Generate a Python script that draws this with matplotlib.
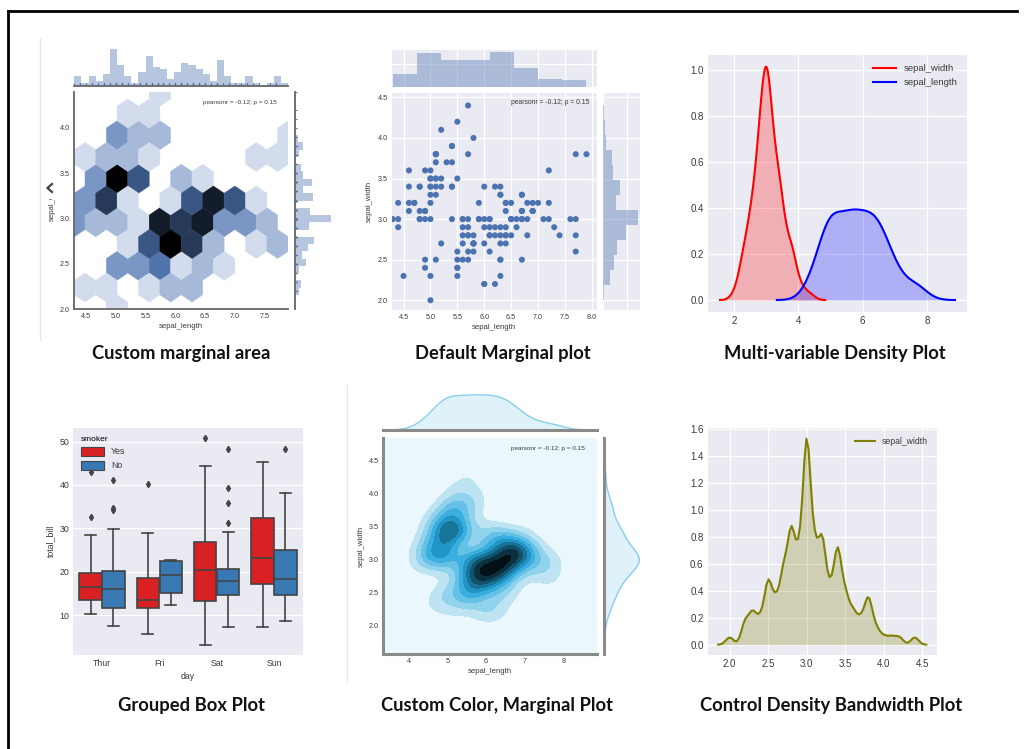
import numpy as np
import matplotlib
matplotlib.use("Agg")
import matplotlib.pyplot as plt
from matplotlib.colors import LinearSegmentedColormap, to_rgb
from matplotlib.patches import Rectangle, Patch
from matplotlib.lines import Line2D
import colorsys

# ------------------------------------------------------------------ data
sepal_length = [5.1, 4.9, 4.7, 4.6, 5.0, 5.4, 4.6, 5.0, 4.4, 4.9, 5.4, 4.8, 4.8, 4.3, 5.8,
                5.7, 5.4, 5.1, 5.7, 5.1, 5.4, 5.1, 4.6, 5.1, 4.8, 5.0, 5.0, 5.2, 5.2, 4.7,
                4.8, 5.4, 5.2, 5.5, 4.9, 5.0, 5.5, 4.9, 4.4, 5.1, 5.0, 4.5, 4.4, 5.0, 5.1,
                4.8, 5.1, 4.6, 5.3, 5.0,
                7.0, 6.4, 6.9, 5.5, 6.5, 5.7, 6.3, 4.9, 6.6, 5.2, 5.0, 5.9, 6.0, 6.1, 5.6,
                6.7, 5.6, 5.8, 6.2, 5.6, 5.9, 6.1, 6.3, 6.1, 6.4, 6.6, 6.8, 6.7, 6.0, 5.7,
                5.5, 5.5, 5.8, 6.0, 5.4, 6.0, 6.7, 6.3, 5.6, 5.5, 5.5, 6.1, 5.8, 5.0, 5.6,
                5.7, 5.7, 6.2, 5.1, 5.7,
                6.3, 5.8, 7.1, 6.3, 6.5, 7.6, 4.9, 7.3, 6.7, 7.2, 6.5, 6.4, 6.8, 5.7, 5.8,
                6.4, 6.5, 7.7, 7.7, 6.0, 6.9, 5.6, 7.7, 6.3, 6.7, 7.2, 6.2, 6.1, 6.4, 7.2,
                7.4, 7.9, 6.4, 6.3, 6.1, 7.7, 6.3, 6.4, 6.0, 6.9, 6.7, 6.9, 5.8, 6.8, 6.7,
                6.7, 6.3, 6.5, 6.2, 5.9]
sepal_width = [3.5, 3.0, 3.2, 3.1, 3.6, 3.9, 3.4, 3.4, 2.9, 3.1, 3.7, 3.4, 3.0, 3.0, 4.0,
               4.4, 3.9, 3.5, 3.8, 3.8, 3.4, 3.7, 3.6, 3.3, 3.4, 3.0, 3.4, 3.5, 3.4, 3.2,
               3.1, 3.4, 4.1, 4.2, 3.1, 3.2, 3.5, 3.6, 3.0, 3.4, 3.5, 2.3, 3.2, 3.5, 3.8,
               3.0, 3.8, 3.2, 3.7, 3.3,
               3.2, 3.2, 3.1, 2.3, 2.8, 2.8, 3.3, 2.4, 2.9, 2.7, 2.0, 3.0, 2.2, 2.9, 2.9,
               3.1, 3.0, 2.7, 2.2, 2.5, 3.2, 2.8, 2.5, 2.8, 2.9, 3.0, 2.8, 3.0, 2.9, 2.6,
               2.4, 2.4, 2.7, 2.7, 3.0, 3.4, 3.1, 2.3, 3.0, 2.5, 2.6, 3.0, 2.6, 2.3, 2.7,
               3.0, 2.9, 2.9, 2.5, 2.8,
               3.3, 2.7, 3.0, 2.9, 3.0, 3.0, 2.5, 2.9, 2.5, 3.6, 3.2, 2.7, 3.0, 2.5, 2.8,
               3.2, 3.0, 3.8, 2.6, 2.2, 3.2, 2.8, 2.8, 2.7, 3.3, 3.2, 2.8, 3.0, 2.8, 3.0,
               2.8, 3.8, 2.8, 2.8, 2.6, 3.0, 3.4, 3.1, 3.0, 3.1, 3.1, 3.1, 2.7, 3.2, 3.3,
               3.0, 2.5, 3.0, 3.4, 3.0]

# grouped box plot (tips: total_bill by day and smoker)
days = ["Thur", "Fri", "Sat", "Sun"]
smoker_levels = ["Yes", "No"]
yes_whislo = [10.2, 5.6, 3.1, 7.2]
yes_q1 = [13.4, 11.7, 13.3, 17.1]
yes_med = [16.5, 13.4, 20.4, 23.1]
yes_q3 = [19.8, 18.5, 26.8, 32.4]
yes_whishi = [28.5, 29.0, 44.3, 45.4]
yes_fliers = [[43.1, 32.7], [40.2], [50.8], []]
no_whislo = [7.5, 12.3, 7.2, 8.6]
no_q1 = [11.6, 15.0, 14.6, 14.6]
no_med = [16.0, 19.2, 17.8, 18.4]
no_q3 = [20.2, 22.5, 20.6, 25.0]
no_whishi = [29.8, 22.8, 29.1, 38.1]
no_fliers = [[41.2, 34.8, 34.3], [], [48.3, 39.4, 35.8, 31.3], [48.2]]

titles = ["Custom marginal area", "Default Marginal plot", "Multi-variable Density Plot",
          "Grouped Box Plot", "Custom Color, Marginal Plot", "Control Density Bandwidth Plot"]
pearson_label = "pearsonr = -0.12; p = 0.15"

# ------------------------------------------------------------------ helpers
sl = np.array(sepal_length)
sw = np.array(sepal_width)

W, H = 1024, 749
fig = plt.figure(figsize=(W / 100, H / 100), dpi=100)
fig.patch.set_facecolor("white")
plt.rcParams["font.family"] = ["Liberation Sans", "DejaVu Sans"]

DEEP = "#4C72B0"
TXT = "#3a3a3a"


def add_ax(x0, y0, x1, y1):
    return fig.add_axes([x0 / W, 1 - y1 / H, (x1 - x0) / W, (y1 - y0) / H])


def dark(ax, size):
    ax.set_facecolor("#EAEAF2")
    for s in ax.spines.values():
        s.set_visible(False)
    ax.grid(True, color="white", lw=0.9)
    ax.set_axisbelow(True)
    ax.tick_params(length=0, labelsize=size, labelcolor=TXT, pad=3)


def white(ax, size, color="#555555", lw=1.2):
    ax.set_facecolor("white")
    ax.spines["top"].set_visible(False)
    ax.spines["right"].set_visible(False)
    for k in ("left", "bottom"):
        ax.spines[k].set_color(color)
        ax.spines[k].set_linewidth(lw)
    ax.tick_params(length=0, labelsize=size, labelcolor=TXT, pad=3)


def hls_cmap(color):
    r, g, b = to_rgb(color)
    h, l, s = colorsys.rgb_to_hls(r, g, b)
    cols = [colorsys.hls_to_rgb(h, ll, s) for ll in np.linspace(1, 0, 12)]
    return LinearSegmentedColormap.from_list("blend", cols)


def scott_bw(v):
    v = np.asarray(v)
    iqr = (np.percentile(v, 75) - np.percentile(v, 25)) / 1.349
    a = min(np.std(v, ddof=1), iqr)
    return 1.059 * a * len(v) ** (-0.2)


def kde1d(v, bw, cut=3, n=100):
    v = np.asarray(v)
    grid = np.linspace(v.min() - cut * bw, v.max() + cut * bw, n)
    z = np.exp(-0.5 * ((grid[:, None] - v[None, :]) / bw) ** 2).sum(1)
    return grid, z / (len(v) * bw * np.sqrt(2 * np.pi))


def marg_off(ax):
    ax.tick_params(labelbottom=False, labelleft=False, length=0)


# ------------------------------------------------------------------ panel 1: hexbin
ax1 = add_ax(74.3, 91.7, 288.3, 309.3)
white(ax1, 5.2, color="#666666", lw=1.3)
ax1.hexbin(sl, sw, gridsize=10, mincnt=1, cmap=hls_cmap(DEEP), vmin=0,
           edgecolors="face", linewidths=0.3)
ax1.set_xlim(sl.min(), sl.max())
ax1.set_ylim(sw.min(), sw.max())
ax1.set_xticks(np.arange(4.5, 7.6, 0.5))
ax1.set_yticks(np.arange(2.0, 4.1, 0.5))
ax1.set_xlabel("sepal_length", fontsize=5.6, color=TXT, labelpad=2)
ax1.set_ylabel("sepal_width", fontsize=5.6, color=TXT, labelpad=3)
ax1.text(0.945, 0.96, pearson_label, transform=ax1.transAxes, ha="right", va="top",
         fontsize=4.6, color=TXT)

ax1x = add_ax(74.3, 47, 288.3, 85.5)
white(ax1x, 5, color="#666666", lw=1.3)
ax1x.spines["left"].set_visible(False)
ax1x.hist(sl, bins=30, color=DEEP, alpha=0.4)
ax1x.vlines(sl, 0, 0.06, transform=ax1x.get_xaxis_transform(), color=DEEP, lw=0.8)
ax1x.set_xlim(ax1.get_xlim())
marg_off(ax1x)

ax1y = add_ax(295, 91.7, 333, 309.3)
white(ax1y, 5, color="#666666", lw=1.3)
ax1y.spines["bottom"].set_visible(False)
ax1y.hist(sw, bins=30, color=DEEP, alpha=0.4, orientation="horizontal")
ax1y.hlines(sw, 0, 0.06, transform=ax1y.get_yaxis_transform(), color=DEEP, lw=0.8)
ax1y.set_ylim(ax1.get_ylim())
marg_off(ax1y)

# ------------------------------------------------------------------ panel 2: scatter
ax2 = add_ax(391.7, 93.3, 596.7, 310)
dark(ax2, 5.2)
ax2.scatter(sl, sw, s=19, color=DEEP, edgecolor="none", zorder=3)
ax2.set_xlim(4.28, 8.09)
ax2.set_ylim(1.88, 4.55)
ax2.set_xticks(np.arange(4.5, 8.01, 0.5))
ax2.set_yticks(np.arange(2.0, 4.51, 0.5))
ax2.set_xlabel("sepal_length", fontsize=5.6, color=TXT, labelpad=2)
ax2.set_ylabel("sepal_width", fontsize=5.6, color=TXT, labelpad=3)
ax2.text(0.965, 0.975, pearson_label, transform=ax2.transAxes, ha="right", va="top",
         fontsize=4.9, color=TXT)

ax2x = add_ax(391.7, 50, 596.7, 86.7)
dark(ax2x, 5)
ax2x.hist(sl, bins=8, color=DEEP, alpha=0.4)
ax2x.set_xlim(ax2.get_xlim())
marg_off(ax2x)

ax2y = add_ax(603.3, 93.3, 640, 310)
dark(ax2y, 5)
ax2y.hist(sw, bins=13, color=DEEP, alpha=0.4, orientation="horizontal")
ax2y.set_ylim(ax2.get_ylim())
marg_off(ax2y)

# ------------------------------------------------------------------ panel 3: two densities
ax3 = add_ax(708.3, 55, 966.7, 311.7)
dark(ax3, 7)
for vals, col, lab in ((sw, "red", "sepal_width"), (sl, "blue", "sepal_length")):
    gx, gz = kde1d(vals, scott_bw(vals))
    ax3.plot(gx, gz, color=col, lw=1.5, label=lab)
    ax3.fill_between(gx, 0, gz, color=col, alpha=0.25, lw=0)
ax3.set_yticks(np.arange(0, 1.01, 0.2))
ax3.set_xticks([2, 4, 6, 8])
ax3.legend(loc="upper right", frameon=False, fontsize=6.8, handlelength=2.4,
           labelcolor=TXT, borderaxespad=0.6)

# ------------------------------------------------------------------ panel 4: grouped box plot
ax4 = add_ax(73.3, 427.7, 302.7, 655)
dark(ax4, 6.3)
red = (0.85, 0.13, 0.14)
blue = (0.22, 0.47, 0.70)
edge = "#444444"
for k, (lo, q1, md, q3, hi, fl, col, off) in enumerate((
        (yes_whislo, yes_q1, yes_med, yes_q3, yes_whishi, yes_fliers, red, -0.2),
        (no_whislo, no_q1, no_med, no_q3, no_whishi, no_fliers, blue, 0.2))):
    stats = [dict(whislo=lo[i], q1=q1[i], med=md[i], q3=q3[i], whishi=hi[i], fliers=fl[i])
             for i in range(len(days))]
    ax4.bxp(stats, positions=np.arange(len(days)) + off, widths=0.39, patch_artist=True,
            showfliers=True, manage_ticks=False,
            boxprops=dict(facecolor=col, edgecolor=edge, lw=1.2),
            medianprops=dict(color=edge, lw=1.2),
            whiskerprops=dict(color=edge, lw=1.2),
            capprops=dict(color=edge, lw=1.2),
            flierprops=dict(marker="d", markersize=3.2, markerfacecolor=edge,
                            markeredgecolor=edge))
ax4.set_xlim(-0.5, len(days) - 0.5)
ax4.set_ylim(0.8, 53.2)
ax4.set_xticks(np.arange(len(days)))
ax4.set_xticklabels(days)
ax4.set_yticks([10, 20, 30, 40, 50])
ax4.xaxis.grid(False)
ax4.set_xlabel("day", fontsize=6.3, color=TXT, labelpad=3)
ax4.set_ylabel("total_bill", fontsize=6.3, color=TXT, labelpad=3)
ax4.legend(handles=[Patch(facecolor=red, edgecolor=edge, lw=0.8, label="Yes"),
                    Patch(facecolor=blue, edgecolor=edge, lw=0.8, label="No")],
           title="smoker", loc="upper left", frameon=False, fontsize=6.3, title_fontsize=6,
           labelcolor=TXT, handlelength=2.6, handleheight=1.2, borderaxespad=0.5,
           alignment="left")

# ------------------------------------------------------------------ panel 5: 2-D density
bx, by = scott_bw(sl), scott_bw(sw)
gx = np.linspace(sl.min() - 3 * bx, sl.max() + 3 * bx, 100)
gy = np.linspace(sw.min() - 3 * by, sw.max() + 3 * by, 100)
XX, YY = np.meshgrid(gx, gy)
ZZ = (np.exp(-0.5 * ((XX[..., None] - sl) / bx) ** 2 - 0.5 * ((YY[..., None] - sw) / by) ** 2)
      .sum(-1) / (len(sl) * 2 * np.pi * bx * by))

ax5 = add_ax(383.3, 438.3, 596.7, 654.3)
white(ax5, 5.2, color="#8a8a8a", lw=2.2)
ax5.contourf(XX, YY, ZZ, 10, cmap=hls_cmap("skyblue"))
ax5.set_xlim(gx[0], gx[-1])
ax5.set_ylim(gy[0], gy[-1])
ax5.set_xticks([4, 5, 6, 7, 8])
ax5.set_yticks(np.arange(2.0, 4.51, 0.5))
ax5.set_xlabel("sepal_length", fontsize=5.6, color=TXT, labelpad=2)
ax5.set_ylabel("sepal_width", fontsize=5.6, color=TXT, labelpad=3)
ax5.text(0.945, 0.965, pearson_label, transform=ax5.transAxes, ha="right", va="top",
         fontsize=4.6, color=TXT)

ax5x = add_ax(383.3, 393, 596.7, 430)
white(ax5x, 5, color="#8a8a8a", lw=2.2)
ax5x.spines["left"].set_visible(False)
kx, kz = kde1d(sl, bx)
ax5x.plot(kx, kz, color="skyblue", lw=1.0)
ax5x.fill_between(kx, 0, kz, color="skyblue", alpha=0.25, lw=0)
ax5x.set_xlim(ax5.get_xlim())
ax5x.set_ylim(0, None)
marg_off(ax5x)

ax5y = add_ax(604.3, 438.3, 641, 654.3)
white(ax5y, 5, color="#8a8a8a", lw=2.2)
ax5y.spines["bottom"].set_visible(False)
ky, kzy = kde1d(sw, by)
ax5y.plot(kzy, ky, color="skyblue", lw=1.0)
ax5y.fill_betweenx(ky, 0, kzy, color="skyblue", alpha=0.25, lw=0)
ax5y.set_ylim(ax5.get_ylim())
ax5y.set_xlim(0, None)
marg_off(ax5y)

# ------------------------------------------------------------------ panel 6: narrow bandwidth
ax6 = add_ax(707.7, 428.3, 936.7, 655)
dark(ax6, 7)
ox, oz = kde1d(sw, 0.05)
ax6.plot(ox, oz, color="olive", lw=1.5, label="sepal_width")
ax6.fill_between(ox, 0, oz, color="olive", alpha=0.25, lw=0)
ax6.set_yticks(np.arange(0, 1.61, 0.2))
ax6.set_xticks(np.arange(2.0, 4.51, 0.5))
ax6.legend(loc="upper right", frameon=False, fontsize=6.2, handlelength=2.4,
           labelcolor=TXT, borderaxespad=0.6)

# ------------------------------------------------------------------ page decorations
title_pos = [(181, 353), (503, 353), (835, 353), (191, 705), (497, 705), (831, 705)]
for t, (x, y) in zip(titles, title_pos):
    fig.text(x / W, 1 - y / H, t, ha="center", va="center", fontsize=13.2,
             fontweight="bold", color="#111111",
             family=["Liberation Sans Narrow", "Lato", "DejaVu Sans"])

# outer frame (left and top) and faint image edges
frame = dict(color="black", lw=2, transform=fig.transFigure)
fig.add_artist(Line2D([7.5 / W, 7.5 / W], [0, 1 - 11 / H], **frame))
fig.add_artist(Line2D([7.5 / W, 1016.5 / W], [1 - 11 / H, 1 - 11 / H], **frame))
fig.add_artist(Line2D([40 / W, 40 / W], [1 - 340 / H, 1 - 38 / H], color="#e6e6e6",
                      lw=1, transform=fig.transFigure))
fig.add_artist(Line2D([347 / W, 347 / W], [1 - 682 / H, 1 - 385 / H], color="#e6e6e6",
                      lw=1, transform=fig.transFigure))

# carousel arrow overlay on panel 1 (white tab with a chevron)
fig.add_artist(Rectangle((41 / W, 1 - 199 / H), 17 / W, 28 / H, facecolor="white",
                         edgecolor="none", transform=fig.transFigure, zorder=5))
fig.add_artist(Line2D([52 / W, 47.5 / W, 52 / W], [1 - 184 / H, 1 - 188 / H, 1 - 192 / H],
                      color="#444444", lw=1.6, transform=fig.transFigure, zorder=6,
                      solid_joinstyle="miter"))

fig.savefig("out.png", dpi=100)
